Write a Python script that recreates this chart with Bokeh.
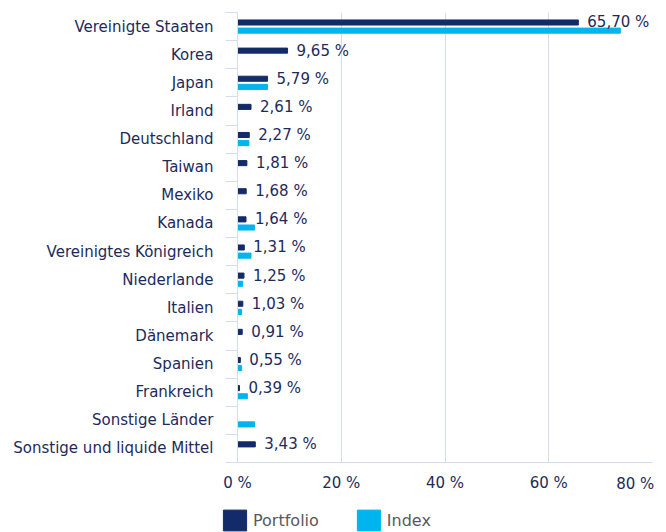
from bokeh.plotting import figure
from bokeh.layouts import column, row
from bokeh.models import (ColumnDataSource, Range1d, FixedTicker, Legend, LegendItem,
                          LinearAxis)
from bokeh.transform import dodge
from bokeh.embed import file_html
from bokeh.resources import INLINE

categories = ["Vereinigte Staaten", "Korea", "Japan", "Irland", "Deutschland", "Taiwan",
              "Mexiko", "Kanada", "Vereinigtes Königreich", "Niederlande", "Italien",
              "Dänemark", "Spanien", "Frankreich", "Sonstige Länder",
              "Sonstige und liquide Mittel"]
portfolio = [65.70, 9.65, 5.79, 2.61, 2.27, 1.81, 1.68, 1.64, 1.31, 1.25, 1.03, 0.91,
             0.55, 0.39, 0.0, 3.43]
index_vals = [73.8, 0.0, 5.8, 0.0, 2.2, 0.0, 0.0, 3.3, 2.6, 1.0, 0.8, 0.0, 0.8, 1.9,
              3.3, 0.0]
x_ticks = [0, 20, 40, 60, 80]
x_tick_labels = ["0 %", "20 %", "40 %", "60 %", "80 %"]
series_names = ["Portfolio", "Index"]

DARK = "#132b6a"
CYAN = "#00b5ed"
TEXT = "#1d2b5a"
GRID = "#d3ddec"
FONT = "DejaVu Sans"

n = len(categories)
ypos = [n - 1 - i for i in range(n)]
value_labels = [("%.2f" % v).replace(".", ",") + " %" if v > 0 else "" for v in portfolio]

src = ColumnDataSource(dict(y=ypos, cat=categories, portfolio=portfolio,
                            index=index_vals, label=value_labels))

p = figure(width=666, height=500, output_backend="svg", toolbar_location=None,
           x_range=Range1d(0, 80), y_range=Range1d(-0.5, n - 0.5),
           min_border_left=237, min_border_right=14, min_border_top=12,
           min_border_bottom=38, outline_line_color=None)

p.hbar(y=dodge("y", 0.145, range=p.y_range), left=0, right="portfolio",
       height=0.18, color=DARK, source=src)
p.hbar(y=dodge("y", -0.145, range=p.y_range), left=0, right="index",
       height=0.18, color=CYAN, source=src)

p.text(x="portfolio", y=dodge("y", 0.145, range=p.y_range), text="label", source=src,
       x_offset=9, text_baseline="middle", text_align="left",
       text_font_size="15px", text_color=TEXT, text_font={"value": FONT})

# y axis
ya = p.yaxis[0]
ya.ticker = FixedTicker(ticks=ypos, minor_ticks=[k - 0.5 for k in range(n + 1)])
ya.major_label_overrides = {y: c for y, c in zip(ypos, categories)}
ya.major_tick_line_color = None
ya.major_tick_out = 0
ya.major_tick_in = 0
ya.minor_tick_out = 12
ya.minor_tick_in = 0
ya.minor_tick_line_color = GRID
ya.axis_line_color = GRID
ya.major_label_standoff = 12
ya.major_label_text_font = FONT
ya.major_label_text_font_size = "15px"
ya.major_label_text_color = TEXT

# x axis (0..60 centred)
xa = p.xaxis[0]
xa.ticker = FixedTicker(ticks=x_ticks[:-1], minor_ticks=[])
xa.major_label_overrides = {t: l for t, l in zip(x_ticks[:-1], x_tick_labels[:-1])}
xa.major_tick_out = 0
xa.major_tick_in = 0
xa.minor_tick_line_color = None
xa.axis_line_color = GRID
xa.major_label_standoff = 11
xa.major_label_text_font = FONT
xa.major_label_text_font_size = "15px"
xa.major_label_text_color = TEXT

# x axis for last tick, right aligned, pulled up into the same row
xa2 = LinearAxis(ticker=FixedTicker(ticks=x_ticks[-1:], minor_ticks=[]),
                 major_label_overrides={x_ticks[-1]: x_tick_labels[-1] + "\u00a0"},
                 major_tick_out=0, major_tick_in=0, minor_tick_line_color=None,
                 axis_line_color=None, major_label_standoff=-20,
                 major_label_text_align="right", major_label_text_font=FONT,
                 major_label_text_font_size="15px", major_label_text_color=TEXT)
p.add_layout(xa2, "below")

p.ygrid.grid_line_color = None
p.xgrid.grid_line_color = GRID
p.xgrid.ticker = FixedTicker(ticks=x_ticks)

# legend strip
lf = figure(width=666, height=32, output_backend="svg", toolbar_location=None,
            x_range=Range1d(0, 1), y_range=Range1d(0, 1), min_border=0,
            outline_line_color=None)
lf.axis.visible = False
lf.grid.visible = False
key_src = ColumnDataSource(dict(y=[-10], right=[0]))
g1 = lf.hbar(y="y", left=0, right="right", height=1, color=DARK, source=key_src)
g2 = lf.hbar(y="y", left=0, right="right", height=1, color=CYAN, source=key_src)
legend = Legend(items=[LegendItem(label=series_names[0], renderers=[g1]),
                       LegendItem(label=series_names[1], renderers=[g2])],
                orientation="horizontal", location=(220, -1),
                glyph_width=29, glyph_height=26, label_standoff=4, spacing=35,
                padding=0, margin=0, border_line_color=None,
                background_fill_color=None, label_text_font=FONT,
                label_text_font_size="16px", label_text_color="#595959")
lf.add_layout(legend, "center")

layout = column(p, row(lf), spacing=0)
open("out.html", "w").write(file_html(layout, INLINE))
